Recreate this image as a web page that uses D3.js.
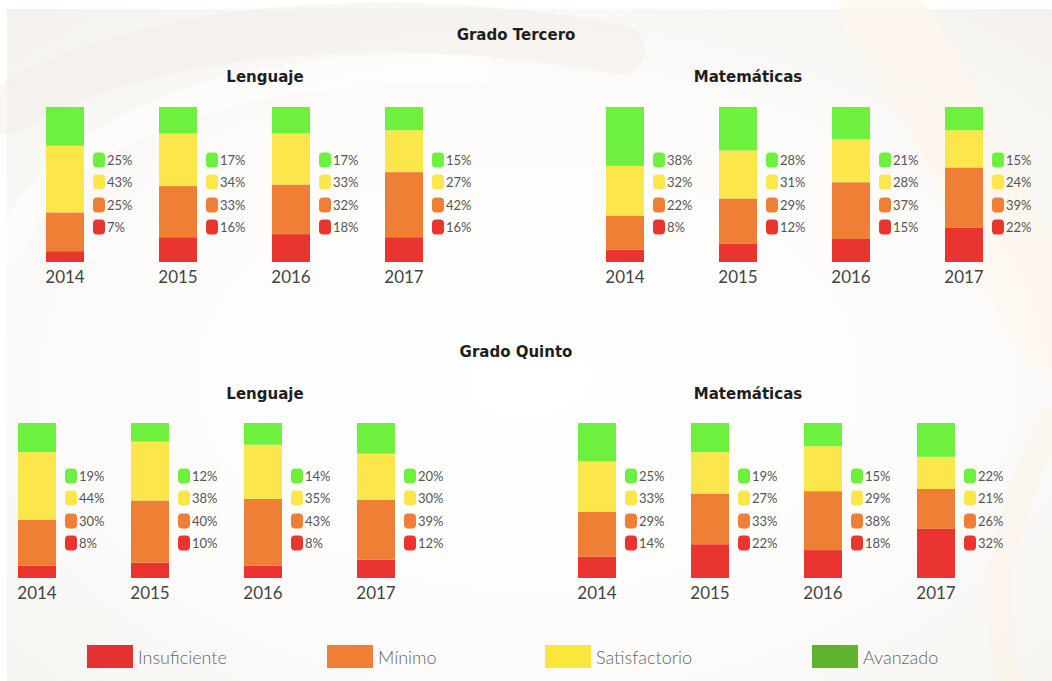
<!DOCTYPE html>
<html><head><meta charset="utf-8">
<script src="https://cdn.jsdelivr.net/npm/d3@7"></script>
<style>html,body{margin:0;padding:0;background:#fff;}svg{display:block;}</style>
</head><body>
<svg id="c" width="1052" height="681"></svg>
<script>
const years = ["2014","2015","2016","2017"];
const levels = ["Insuficiente","Mínimo","Satisfactorio","Avanzado"];
const barColors = ["#ea3430","#ef7f35","#fbe74b","#6ef03e"];
const legendColors = ["#e33231","#ef8035","#f9e73b","#5db42f"];
const grades = ["Grado Tercero","Grado Quinto"];
const subjects = ["Lenguaje","Matemáticas"];

// values per year: [Insuficiente, Mínimo, Satisfactorio, Avanzado]
const terceroLenguaje = [[7,25,43,25],[16,33,34,17],[18,32,33,17],[16,42,27,15]];
const terceroMatematicas = [[8,22,32,38],[12,29,31,28],[15,37,28,21],[22,39,24,15]];
const quintoLenguaje = [[8,30,44,19],[10,40,38,12],[8,43,35,14],[12,39,30,20]];
const quintoMatematicas = [[14,29,33,25],[22,33,27,19],[18,38,29,15],[32,26,21,22]];

const panels = [
  {grade:0, subject:0, data:terceroLenguaje, x0:46, top:107, titleX:265, titleY:82},
  {grade:0, subject:1, data:terceroMatematicas, x0:606, top:107, titleX:748, titleY:82},
  {grade:1, subject:0, data:quintoLenguaje, x0:18, top:423, titleX:265, titleY:399},
  {grade:1, subject:1, data:quintoMatematicas, x0:578, top:423, titleX:748, titleY:399}
];
const gradeTitles = [{t:grades[0], x:516, y:40},{t:grades[1], x:516, y:357}];

const svg = d3.select("#c");
const font = "Lato, 'Open Sans', sans-serif";
const titleFont = "'DejaVu Sans', Verdana, sans-serif";

// background
const defs = svg.append("defs");
const rg = defs.append("radialGradient").attr("id","bg").attr("cx","0.5").attr("cy","0.55").attr("r","0.75");
rg.append("stop").attr("offset","0").attr("stop-color","#ffffff");
rg.append("stop").attr("offset","0.55").attr("stop-color","#fdfcfb");
rg.append("stop").attr("offset","1").attr("stop-color","#f4f1ec");
svg.append("rect").attr("x",0).attr("y",0).attr("width",1052).attr("height",681).attr("fill","#fff");
svg.append("rect").attr("x",7).attr("y",9).attr("width",1045).attr("height",672).attr("fill","url(#bg)");
const arcs = [
  {d:"M7,110 C150,20 420,10 620,50", w:50, c:"#f1ede7", o:0.45},
  {d:"M7,250 C60,120 250,60 480,70", w:30, c:"#ffffff", o:0.5},
  {d:"M880,9 C960,120 1010,260 1052,330", w:80, c:"#fdf7ec", o:0.7},
  {d:"M1052,420 C1000,520 990,600 1010,681", w:25, c:"#fbf4e8", o:0.6}
];
svg.append("g").selectAll("path").data(arcs).join("path")
  .attr("d",d=>d.d).attr("fill","none").attr("stroke",d=>d.c)
  .attr("stroke-width",d=>d.w).attr("stroke-linecap","round").attr("opacity",d=>d.o);

// grade titles
svg.append("g").selectAll("text").data(gradeTitles).join("text")
  .attr("x",d=>d.x).attr("y",d=>d.y).attr("text-anchor","middle")
  .attr("font-family",titleFont).attr("font-weight","bold").attr("font-size",15)
  .attr("fill","#1e1e1e").text(d=>d.t);

const barH = 155, barW = 38, step = 113;
const stack = d3.stack().keys([0,1,2,3]).offset(d3.stackOffsetExpand);

panels.forEach(p => {
  const g = svg.append("g");
  g.append("text").attr("x",p.titleX).attr("y",p.titleY).attr("text-anchor","middle")
    .attr("font-family",titleFont).attr("font-weight","bold").attr("font-size",15)
    .attr("fill","#1e1e1e").text(subjects[p.subject]);

  const x = d3.scaleBand().domain(years)
    .range([p.x0, p.x0 + 3*step + barW]).paddingInner((step-barW)/step).paddingOuter(0);
  const y = d3.scaleLinear().domain([0,1]).range([p.top+barH, p.top]);
  const rows = p.data.map((v,i)=>({year:years[i], 0:v[0],1:v[1],2:v[2],3:v[3]}));
  const series = stack(rows);

  g.selectAll("g.s").data(series).join("g").attr("class","s")
    .attr("fill",(d,i)=>barColors[i])
    .selectAll("rect").data(d=>d).join("rect")
    .attr("x",d=>x(d.data.year)).attr("width",x.bandwidth())
    .attr("y",d=>y(d[1])).attr("height",d=>y(d[0])-y(d[1]));

  g.selectAll("text.yr").data(years).join("text").attr("class","yr")
    .attr("x",d=>x(d)+x.bandwidth()/2).attr("y",p.top+barH+21)
    .attr("text-anchor","middle").attr("font-family",font).attr("font-size",17)
    .attr("fill","#444").text(d=>d);

  const offs = [120, 98, 75, 53];
  const labs = [];
  p.data.forEach((v,i)=>{ for(let k=3;k>=0;k--) labs.push({year:years[i], k, v:v[k]}); });
  const lg = g.selectAll("g.lab").data(labs).join("g").attr("class","lab")
    .attr("transform",d=>`translate(${x(d.year)+47},${p.top+offs[d.k]})`);
  lg.append("rect").attr("x",0).attr("y",-7.5).attr("width",12).attr("height",15).attr("rx",4)
    .attr("fill",d=>barColors[d.k]);
  lg.append("text").attr("x",14).attr("y",5).attr("font-family",font).attr("font-size",13)
    .attr("fill","#555").text(d=>d.v+"%");
});

const legX = [87,327,545,812];
const leg = svg.append("g").selectAll("g").data(levels).join("g")
  .attr("transform",(d,i)=>`translate(${legX[i]},645)`);
leg.append("rect").attr("width",46).attr("height",23).attr("fill",(d,i)=>legendColors[i]);
leg.append("text").attr("x",51).attr("y",19).attr("font-family",font).attr("font-size",18)
  .attr("font-weight",300).attr("fill","#666").text(d=>d);
</script>
</body></html>
